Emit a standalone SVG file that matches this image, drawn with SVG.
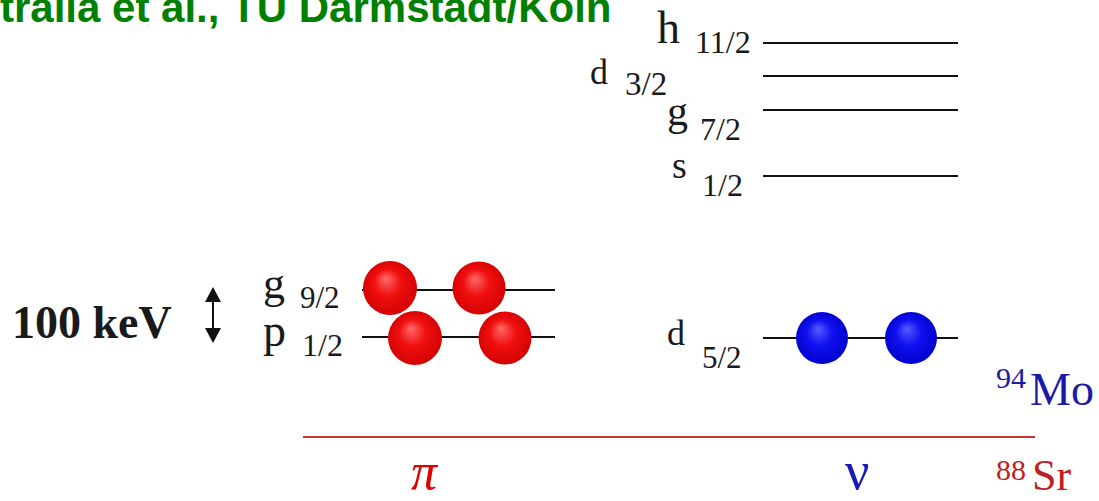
<svg xmlns="http://www.w3.org/2000/svg" width="1099" height="501" viewBox="0 0 1099 501">
<style>
.lv{stroke:#111;stroke-width:2}
.t{font-family:"Liberation Serif","Times New Roman",serif;fill:#1a1a1a}
.title{font-family:"Liberation Sans",Arial,sans-serif;font-weight:bold;fill:#008000}
</style>
<defs>
<radialGradient id="red" cx="0.5" cy="0.5" r="0.55" fx="0.42" fy="0.32">
<stop offset="0" stop-color="#ff6a6a"/>
<stop offset="0.45" stop-color="#f01010"/>
<stop offset="1" stop-color="#d00000"/>
</radialGradient>
<radialGradient id="blue" cx="0.5" cy="0.5" r="0.55" fx="0.42" fy="0.32">
<stop offset="0" stop-color="#5a5aff"/>
<stop offset="0.45" stop-color="#1010f0"/>
<stop offset="1" stop-color="#0000c8"/>
</radialGradient>
</defs>
<rect width="1099" height="501" fill="#fff"/>
<text class="title" x="0" y="22" font-size="42">tralla et al., TU Darmstadt/Köln</text>

<g id="connectors">
<line class="lv" x1="763" y1="43" x2="958" y2="43"/>
<line class="lv" x1="763" y1="76" x2="958" y2="76"/>
<line class="lv" x1="763" y1="110" x2="958" y2="110"/>
<line class="lv" x1="763" y1="176" x2="958" y2="176"/>
<line class="lv" x1="362" y1="290" x2="555" y2="290"/>
<line class="lv" x1="362" y1="337" x2="555" y2="337"/>
<line class="lv" x1="763" y1="338" x2="958" y2="338"/>
<line x1="303" y1="437" x2="1035" y2="437" stroke="#c83232" stroke-width="2"/>
<line x1="213" y1="300" x2="213" y2="330" stroke="#111" stroke-width="2"/>
<path d="M213,287 L205,302 L221,302 z M213,343 L205,328 L221,328 z" fill="#111"/>
</g>

<g id="h112"><text class="t" x="657" y="43" font-size="46">h</text><text class="t" x="695" y="53" font-size="32">11/2</text></g>
<g id="d32"><text class="t" x="590" y="84" font-size="36">d</text><text class="t" x="625" y="95" font-size="33">3/2</text></g>
<g id="g72"><text class="t" x="667" y="125" font-size="42">g</text><text class="t" x="700" y="140" font-size="32">7/2</text></g>
<g id="s12"><text class="t" x="672" y="178" font-size="38">s</text><text class="t" x="702" y="196" font-size="32">1/2</text></g>
<g id="g92"><text class="t" x="263" y="298" font-size="44">g</text><text class="t" x="300" y="308" font-size="31">9/2</text></g>
<g id="p12"><text class="t" x="263" y="346" font-size="46">p</text><text class="t" x="302" y="356" font-size="32">1/2</text></g>
<g id="d52"><text class="t" x="667" y="345" font-size="36">d</text><text class="t" x="702" y="368" font-size="31">5/2</text></g>
<g id="kev"><text class="t" x="12" y="338" font-size="46" font-weight="bold" fill="#111">100 keV</text></g>

<g id="protons">
<circle cx="390" cy="288" r="27" fill="url(#red)"/>
<circle cx="479" cy="288" r="26.5" fill="url(#red)"/>
<circle cx="415" cy="338" r="27" fill="url(#red)"/>
<circle cx="505" cy="338" r="26.5" fill="url(#red)"/>
</g>
<g id="neutrons">
<circle cx="822" cy="338" r="26" fill="url(#blue)"/>
<circle cx="911" cy="338" r="26" fill="url(#blue)"/>
</g>

<g id="pi"><text x="411" y="489" font-size="52" font-style="italic" fill="#e00000" font-family="'Liberation Serif','DejaVu Serif',serif">π</text></g>
<g id="nu"><text x="845" y="489" font-size="54" fill="#1a1ab4" font-family="'Liberation Serif','DejaVu Serif',serif">ν</text></g>
<g id="mo"><text x="996" y="388" font-size="30" class="t" style="fill:#1a1aa6">94</text><text x="1030" y="405" font-size="46" class="t" style="fill:#1a1aa6">Mo</text></g>
<g id="sr"><text x="996" y="480" font-size="30" class="t" style="fill:#c02020">88</text><text x="1032" y="490" font-size="44" class="t" style="fill:#c02020">Sr</text></g>
</svg>
